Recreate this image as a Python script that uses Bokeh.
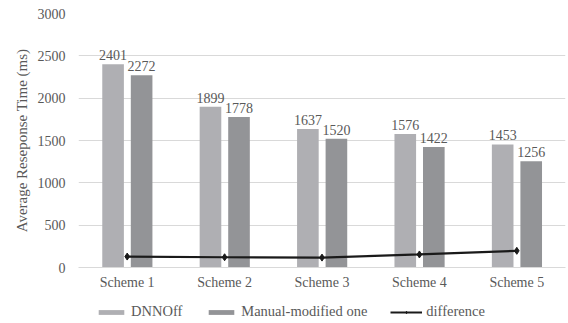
from bokeh.plotting import figure
from bokeh.layouts import column
from bokeh.models import ColumnDataSource, Legend, LegendItem, FactorRange, Range1d
from bokeh.transform import dodge
from bokeh.core.properties import value
from bokeh.embed import file_html
from bokeh.resources import INLINE

schemes = ["Scheme 1", "Scheme 2", "Scheme 3", "Scheme 4", "Scheme 5"]
dnnoff = [2401, 1899, 1637, 1576, 1453]
manual = [2272, 1778, 1520, 1422, 1256]
difference = [d - m for d, m in zip(dnnoff, manual)]
y_ticks = [0, 500, 1000, 1500, 2000, 2500, 3000]
series_names = ["DNNOff", "Manual-modified one", "difference"]

FONT = "Liberation Serif"
TXT = "#595959"
C_DNN = "#afafb3"
C_MAN = "#939497"
C_DIFF = "#1a1a1a"

src = ColumnDataSource(dict(
    x=schemes, dnnoff=dnnoff, manual=manual, diff=difference,
    dl=[str(v) for v in dnnoff], ml=[str(v) for v in manual],
))

p = figure(x_range=FactorRange(*schemes, range_padding=0), y_range=(0, 3000),
           width=568, height=295, output_backend="svg", toolbar_location=None,
           min_border_left=78, min_border_right=3, min_border_top=13, min_border_bottom=28)
p.outline_line_color = None

p.vbar(x=dodge("x", -0.145, range=p.x_range), top="dnnoff", width=0.222,
       source=src, color=C_DNN, line_color=None)
p.vbar(x=dodge("x", 0.148, range=p.x_range), top="manual", width=0.222,
       source=src, color=C_MAN, line_color=None)
p.line(x="x", y="diff", source=src, line_color=C_DIFF, line_width=2.2)
p.scatter(x="x", y="diff", source=src, marker="diamond", size=7,
          fill_color=C_DIFF, line_color=C_DIFF)

p.text(x=dodge("x", -0.145, range=p.x_range), y="dnnoff", text="dl", source=src,
       text_align="center", text_baseline="alphabetic", y_offset=-9,
       text_font=value(FONT), text_font_size="14px", text_color=TXT)
p.text(x=dodge("x", 0.148, range=p.x_range), y="manual", text="ml", source=src,
       text_align="center", text_baseline="alphabetic", y_offset=-9,
       text_font=value(FONT), text_font_size="14px", text_color=TXT)

p.yaxis.ticker = y_ticks
p.yaxis.axis_label = "Average Reseponse Time (ms)"
p.yaxis.axis_label_text_font = FONT
p.yaxis.axis_label_text_font_style = "normal"
p.yaxis.axis_label_text_font_size = "15px"
p.yaxis.axis_label_text_color = TXT
p.yaxis.axis_label_standoff = 5
p.yaxis.axis_line_color = None
p.yaxis.major_tick_line_color = None
p.yaxis.minor_tick_line_color = None
p.yaxis.major_tick_out = 0
p.yaxis.major_label_standoff = 13
p.yaxis.major_label_text_font = FONT
p.yaxis.major_label_text_font_size = "14px"
p.yaxis.major_label_text_color = TXT

p.xaxis.axis_line_color = "#d9d9d9"
p.xaxis.major_tick_line_color = None
p.xaxis.minor_tick_line_color = None
p.xaxis.major_tick_out = 0
p.xaxis.major_label_standoff = 7
p.xaxis.major_label_text_font = FONT
p.xaxis.major_label_text_font_size = "14px"
p.xaxis.major_label_text_color = TXT

p.xgrid.grid_line_color = None
p.ygrid.grid_line_color = "#d9d9d9"
p.ygrid.grid_line_width = 1

# legend strip (its glyphs lie far outside its visible y range; only the legend shows)
lg = figure(width=568, height=28, x_range=p.x_range, y_range=Range1d(1e5, 1e5 + 1),
            output_backend="svg", toolbar_location=None, min_border=0)
lg.axis.visible = False
lg.grid.visible = False
lg.outline_line_color = None
l1 = lg.vbar(x="x", top="dnnoff", width=0.222, source=src, color=C_DNN, line_color=None)
l2 = lg.vbar(x="x", top="manual", width=0.222, source=src, color=C_MAN, line_color=None)
l3 = lg.line(x="x", y="diff", source=src, line_color=C_DIFF, line_width=2.2)
l4 = lg.scatter(x="x", y="diff", source=src, marker="diamond", size=7,
                fill_color=C_DIFF, line_color=C_DIFF)

legend = Legend(items=[
    LegendItem(label=series_names[0], renderers=[l1]),
    LegendItem(label=series_names[1], renderers=[l2]),
    LegendItem(label=series_names[2], renderers=[l3, l4]),
], orientation="horizontal", location=(17, 3))
legend.border_line_color = None
legend.background_fill_alpha = 0
legend.margin = 0
legend.padding = 0
legend.spacing = 23
legend.glyph_width = 32
legend.glyph_height = 6
legend.label_height = 15
legend.label_standoff = 4
legend.label_text_font = FONT
legend.label_text_font_size = "14.5px"
legend.label_text_color = TXT
lg.add_layout(legend, "center")

open("out.html", "w").write(file_html(column(p, lg, spacing=0), INLINE))
